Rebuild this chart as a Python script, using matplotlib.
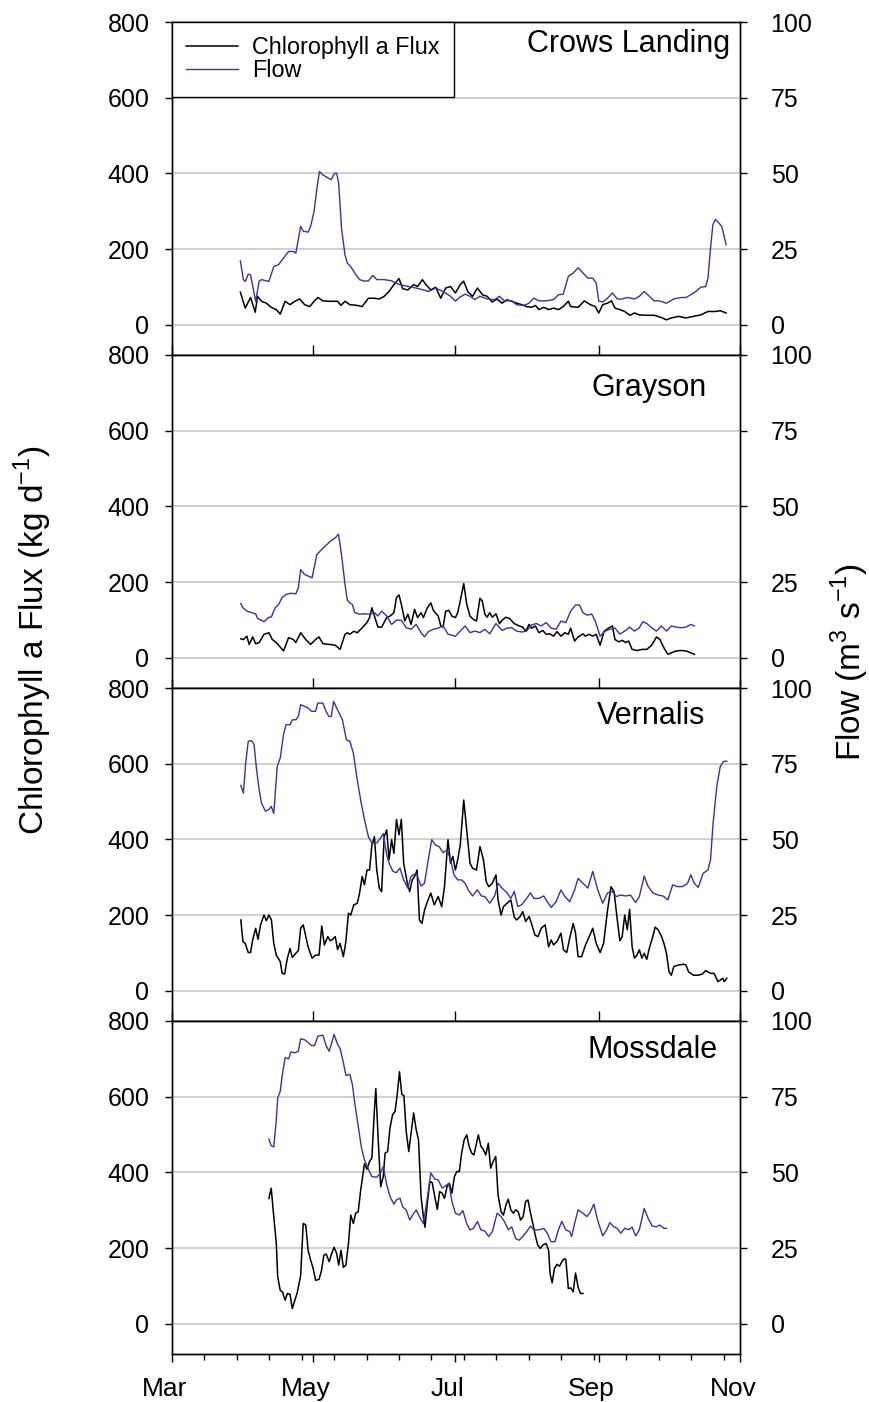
import matplotlib
matplotlib.use('Agg')
import matplotlib.pyplot as plt
from matplotlib.ticker import MultipleLocator
from matplotlib.transforms import ScaledTranslation

plt.rcParams['font.family'] = ['Liberation Sans', 'DejaVu Sans']
plt.rcParams['mathtext.fontset'] = 'custom'
plt.rcParams['mathtext.rm'] = 'Liberation Sans'

# x values are days after 1 March
month_days = [0, 61, 122, 184, 245]
month_labels = ['Mar', 'May', 'Jul', 'Sep', 'Nov']

# ---- Crows Landing ----
crows_chl_day = [
    29.6, 31.7, 34.0, 36.0, 37.0, 38.7, 40.8, 42.9, 45.1, 46.8,
    48.9, 51.0, 53.1, 55.2, 57.3, 59.5, 61.4, 63.0, 65.2, 68.3,
    71.5, 73.0, 74.7, 76.8, 80.0, 82.1, 84.8, 87.4, 89.5, 91.6,
    93.7, 95.8, 98.0, 99.6, 101.8, 104.3, 106.0, 108.1, 109.6, 111.7,
    113.8, 116.0, 118.1, 120.2, 122.3, 124.4, 125.9, 127.6, 129.7, 131.8,
    134.0, 136.0, 138.2, 140.3, 142.4, 144.5, 146.6, 148.7, 150.9, 153.0,
    155.1, 156.8, 158.3, 160.4, 162.5, 164.6, 166.7, 168.8, 171.0, 172.0,
    175.2, 177.9, 180.5, 182.6, 184.1, 185.8, 187.9, 189.6, 191.1, 193.2,
    195.3, 197.5, 199.5, 201.6, 204.8, 208.0, 211.1, 213.3, 215.4, 218.6,
    221.7, 224.9, 228.1, 231.2, 234.4, 236.5, 239.0]
crows_chl = [
    86, 44, 72, 33, 75, 62, 57, 46, 40, 28,
    62, 53, 62, 68, 53, 48, 62, 72, 63, 62,
    62, 51, 62, 53, 51, 48, 70, 70, 68, 75,
    88, 106, 122, 95, 92, 106, 101, 119, 106, 92,
    99, 70, 97, 101, 84, 106, 115, 88, 75, 97,
    79, 75, 60, 68, 57, 66, 62, 57, 53, 48,
    46, 51, 40, 46, 40, 44, 40, 48, 62, 48,
    46, 63, 53, 48, 31, 53, 57, 63, 44, 40,
    35, 25, 31, 26, 25, 25, 19, 13, 18, 22,
    18, 22, 26, 35, 35, 37, 31]
crows_flow_day = [
    29.6, 30.9, 31.7, 33.0, 34.0, 35.1, 36.2, 37.7, 38.7, 40.8,
    41.9, 44.0, 46.1, 48.2, 50.4, 52.5, 53.5, 55.6, 56.7, 58.8,
    59.9, 61.4, 62.6, 63.7, 65.2, 67.3, 68.8, 70.0, 71.1, 72.0,
    73.2, 74.7, 75.7, 77.2, 78.9, 81.0, 83.1, 84.8, 86.7, 88.4,
    91.6, 94.8, 98.0, 102.2, 105.4, 108.5, 110.7, 113.8, 117.0, 120.2,
    122.3, 124.0, 126.5, 128.6, 130.7, 132.9, 136.0, 139.2, 141.3, 143.4,
    146.6, 148.7, 151.9, 154.0, 156.1, 158.3, 161.4, 164.6, 166.7, 168.8,
    171.0, 173.1, 175.2, 177.3, 179.4, 181.5, 183.0, 184.1, 185.8, 187.9,
    190.0, 192.1, 194.2, 196.4, 199.5, 201.6, 203.7, 205.9, 208.0, 210.1,
    213.3, 216.4, 219.6, 221.7, 223.8, 226.0, 228.1, 230.2, 231.2, 232.3,
    233.3, 234.4, 235.9, 237.1, 238.0, 239.0]
crows_flow = [
    21.1, 14.9, 14.3, 16.7, 16.5, 12.1, 7.7, 14.4, 14.9, 14.5,
    14.3, 19.2, 19.9, 22.0, 24.2, 24.2, 23.6, 32.5, 30.9, 30.6,
    32.5, 37.5, 45.1, 50.6, 49.5, 48.5, 47.9, 49.8, 50.1, 46.8,
    31.9, 23.1, 20.4, 19.2, 17.1, 14.9, 14.4, 14.5, 16.3, 14.9,
    14.9, 14.5, 13.3, 12.6, 12.1, 11.5, 11.0, 12.1, 11.0, 9.4,
    7.8, 9.0, 10.1, 9.4, 8.3, 9.4, 8.5, 8.3, 9.4, 7.9,
    7.9, 6.6, 6.4, 7.1, 8.8, 7.9, 7.9, 8.3, 9.9, 10.1,
    16.0, 17.1, 18.8, 17.1, 15.4, 15.4, 13.8, 7.8, 7.5, 8.8,
    10.5, 8.5, 8.5, 9.0, 8.5, 9.4, 11.0, 9.4, 7.9, 7.9,
    7.1, 8.5, 9.0, 9.0, 9.9, 11.0, 12.4, 12.6, 15.4, 25.4,
    33.0, 34.8, 33.6, 32.5, 29.8, 26.4]

# ---- Grayson ----
grayson_chl_day = [
    29.8, 30.9, 32.4, 33.4, 34.9, 36.2, 37.7, 39.8, 41.9, 43.4,
    45.1, 46.8, 48.2, 50.4, 52.5, 53.5, 55.6, 57.8, 59.9, 62.0,
    63.5, 65.2, 68.3, 70.5, 72.6, 74.7, 75.7, 76.8, 78.5, 80.0,
    82.1, 84.2, 85.3, 86.3, 87.4, 88.9, 90.5, 92.7, 94.1, 95.8,
    96.9, 98.0, 99.0, 100.5, 101.8, 103.2, 104.7, 106.0, 107.5, 108.5,
    110.2, 111.7, 112.8, 114.9, 116.0, 117.0, 118.1, 119.5, 120.8, 122.3,
    123.3, 124.4, 125.9, 127.2, 128.6, 130.1, 131.4, 132.9, 133.9, 135.0,
    136.0, 137.1, 138.2, 139.8, 141.3, 142.4, 144.1, 145.6, 147.7, 149.8,
    151.3, 152.6, 154.1, 155.1, 156.8, 158.3, 160.0, 161.4, 163.1, 164.6,
    166.1, 167.8, 169.5, 171.0, 172.0, 173.7, 175.2, 177.3, 178.4, 180.0,
    181.5, 183.0, 184.7, 186.4, 188.5, 190.0, 191.1, 192.8, 194.2, 195.7,
    197.0, 198.5, 200.6, 202.7, 204.8, 206.9, 208.0, 209.0, 210.5, 212.2,
    213.9, 215.4, 217.5, 219.6, 221.7, 223.8, 225.3]
grayson_chl = [
    50, 48, 57, 35, 55, 37, 40, 62, 66, 48,
    40, 28, 18, 53, 48, 40, 66, 48, 35, 48,
    55, 37, 35, 33, 22, 62, 66, 62, 70, 66,
    79, 93, 106, 132, 110, 81, 81, 106, 110, 119,
    159, 166, 141, 97, 115, 88, 128, 106, 119, 106,
    132, 145, 125, 110, 84, 81, 123, 125, 110, 106,
    119, 150, 196, 141, 110, 101, 97, 157, 150, 115,
    107, 119, 107, 116, 90, 99, 107, 104, 90, 84,
    81, 70, 88, 78, 84, 66, 72, 62, 63, 57,
    69, 57, 66, 62, 78, 44, 55, 63, 57, 62,
    57, 62, 33, 70, 79, 84, 48, 42, 46, 40,
    44, 22, 19, 22, 22, 33, 44, 55, 48, 26,
    9, 13, 18, 19, 18, 13, 9]
grayson_flow_day = [
    29.8, 30.7, 32.4, 34.5, 36.2, 37.0, 39.8, 41.9, 42.9, 44.6,
    46.1, 47.6, 49.3, 51.4, 53.5, 54.6, 55.6, 57.3, 58.8, 60.5,
    62.6, 64.1, 66.2, 68.3, 70.5, 71.9, 73.2, 74.7, 75.7, 76.8,
    77.9, 78.9, 81.0, 83.1, 85.3, 87.4, 88.9, 90.5, 92.7, 94.8,
    96.9, 99.0, 101.1, 103.2, 105.4, 107.5, 109.0, 110.6, 112.8, 114.9,
    117.0, 119.1, 122.3, 124.4, 126.5, 128.6, 130.7, 132.9, 135.0, 137.1,
    139.8, 142.4, 144.5, 146.6, 148.7, 150.9, 153.0, 155.1, 157.2, 159.3,
    161.4, 163.6, 165.7, 167.8, 169.9, 172.0, 174.1, 175.8, 177.3, 179.0,
    181.1, 182.6, 184.7, 186.8, 188.9, 191.1, 193.2, 195.3, 197.4, 199.5,
    201.6, 203.1, 204.8, 206.9, 209.0, 211.1, 213.3, 215.4, 217.5, 219.6,
    221.7, 223.8, 225.3]
grayson_flow = [
    17.9, 16.5, 15.4, 14.9, 14.5, 13.0, 11.9, 13.4, 13.4, 16.5,
    17.6, 19.9, 20.9, 21.3, 21.1, 23.1, 29.1, 27.5, 27.0, 26.4,
    34.1, 35.3, 36.9, 38.4, 39.6, 40.8, 34.1, 24.3, 19.0, 18.1,
    17.6, 14.9, 14.4, 14.5, 14.4, 14.9, 13.8, 15.4, 13.8, 11.0,
    12.4, 12.4, 9.9, 9.4, 11.0, 8.3, 6.9, 8.6, 9.4, 9.8,
    10.5, 7.8, 7.1, 8.8, 10.5, 8.3, 8.8, 8.3, 9.4, 7.9,
    11.3, 9.0, 9.8, 9.9, 8.8, 8.5, 8.8, 10.8, 11.3, 10.5,
    11.6, 9.8, 9.4, 12.1, 11.6, 15.4, 17.4, 17.4, 14.9, 14.1,
    14.4, 12.1, 7.1, 8.8, 9.4, 9.8, 7.8, 8.8, 10.1, 8.8,
    9.9, 11.9, 11.3, 9.9, 8.8, 10.5, 8.8, 10.5, 10.1, 9.9,
    10.1, 11.0, 10.5]

# ---- Vernalis ----
vernalis_chl_day = [
    29.8, 30.7, 31.7, 33.0, 34.0, 34.9, 36.2, 37.2, 38.3, 39.8,
    40.8, 41.9, 43.0, 44.0, 45.1, 46.8, 47.6, 48.7, 49.7, 51.0,
    52.0, 53.5, 54.6, 55.6, 56.7, 57.8, 58.8, 60.5, 62.0, 63.5,
    64.7, 65.8, 67.3, 68.3, 69.4, 70.5, 71.5, 72.6, 74.0, 75.1,
    76.2, 77.2, 78.5, 80.0, 81.0, 82.1, 83.1, 84.2, 85.3, 86.3,
    87.4, 88.4, 89.5, 90.5, 91.6, 92.7, 93.7, 94.8, 95.8, 96.9,
    98.0, 99.0, 100.0, 101.6, 102.6, 103.7, 104.7, 105.8, 106.8, 107.9,
    109.0, 110.2, 111.7, 113.2, 114.9, 116.4, 117.6, 119.1, 120.2, 121.2,
    122.3, 123.3, 124.4, 125.9, 127.2, 128.6, 129.7, 131.4, 132.9, 134.4,
    135.6, 136.7, 138.2, 139.8, 140.7, 142.0, 143.0, 144.5, 146.2, 147.7,
    148.7, 150.2, 151.3, 152.6, 154.1, 155.1, 156.6, 157.9, 159.3, 161.0,
    162.5, 163.6, 164.6, 166.1, 167.8, 168.9, 170.3, 171.6, 173.1, 174.1,
    175.2, 176.7, 178.4, 180.0, 181.5, 183.0, 184.7, 186.2, 187.9, 189.4,
    190.7, 192.1, 193.2, 194.2, 195.3, 196.4, 197.4, 198.5, 199.5, 200.6,
    201.6, 202.7, 203.7, 204.8, 205.9, 207.4, 208.4, 209.7, 211.2, 212.2,
    213.3, 214.4, 215.4, 216.5, 218.6, 220.7, 221.7, 222.8, 224.9, 227.0,
    228.7, 230.2, 232.3, 233.8, 235.5, 236.5, 237.6, 238.2, 239.3]
vernalis_chl = [
    187, 130, 125, 101, 101, 134, 165, 136, 174, 200,
    185, 200, 187, 125, 94, 77, 46, 44, 81, 112,
    88, 99, 106, 165, 174, 143, 116, 86, 94, 94,
    171, 121, 143, 132, 136, 143, 109, 125, 90, 130,
    205, 200, 227, 231, 258, 302, 280, 319, 319, 385,
    407, 319, 271, 262, 407, 425, 346, 399, 363, 452,
    412, 453, 337, 284, 262, 293, 302, 319, 187, 178,
    213, 235, 258, 227, 249, 222, 275, 399, 337, 355,
    319, 346, 385, 504, 425, 337, 324, 319, 381, 346,
    288, 275, 284, 306, 240, 200, 222, 231, 240, 194,
    187, 196, 209, 183, 196, 178, 147, 143, 165, 174,
    116, 134, 121, 130, 152, 108, 101, 139, 178, 152,
    90, 90, 121, 143, 165, 125, 101, 125, 213, 275,
    262, 187, 132, 143, 200, 161, 215, 116, 86, 94,
    108, 86, 99, 83, 112, 143, 168, 161, 143, 125,
    99, 50, 41, 64, 68, 70, 68, 50, 41, 41,
    44, 53, 46, 46, 24, 28, 33, 24, 33]
vernalis_flow_day = [
    29.8, 30.9, 31.9, 33.0, 34.5, 35.5, 36.6, 37.7, 38.7, 40.4,
    41.9, 42.9, 44.0, 45.5, 46.8, 48.2, 49.3, 51.0, 52.0, 53.5,
    54.6, 55.6, 57.3, 58.8, 60.3, 62.0, 63.0, 65.2, 66.2, 67.7,
    68.8, 69.8, 71.1, 72.6, 73.6, 75.3, 76.8, 78.3, 80.0, 81.7,
    83.1, 84.8, 86.3, 88.4, 90.0, 91.2, 92.7, 93.7, 95.4, 96.9,
    98.4, 100.0, 101.8, 103.2, 105.4, 107.5, 109.0, 110.6, 112.1, 113.8,
    115.3, 117.0, 118.7, 120.2, 121.7, 123.3, 125.0, 126.5, 128.0, 129.7,
    131.8, 133.5, 135.0, 137.1, 139.2, 140.7, 142.4, 144.5, 146.2, 147.7,
    149.2, 150.9, 152.5, 154.7, 156.1, 158.3, 160.4, 161.9, 163.6, 165.7,
    167.8, 169.5, 171.6, 173.7, 175.2, 177.3, 179.4, 181.5, 183.7, 185.8,
    187.9, 190.0, 191.6, 193.6, 195.7, 197.8, 200.0, 201.6, 203.7, 205.4,
    207.5, 209.7, 211.8, 213.9, 216.0, 218.1, 220.2, 222.4, 223.8, 225.3,
    227.0, 229.1, 231.2, 232.3, 233.4, 235.0, 236.5, 238.0, 239.3]
vernalis_flow = [
    67.8, 65.3, 75.3, 82.4, 82.6, 81.3, 73.0, 66.4, 62.0, 59.3,
    59.8, 60.9, 58.6, 74.1, 76.9, 84.6, 87.9, 87.9, 89.5, 89.5,
    90.6, 94.5, 93.9, 93.4, 92.3, 92.3, 95.0, 95.0, 92.9, 90.6,
    90.6, 95.6, 93.4, 91.1, 89.5, 82.9, 82.4, 78.5, 69.6, 62.0,
    56.5, 50.9, 48.8, 48.8, 50.4, 51.9, 44.9, 42.1, 39.4, 39.0,
    40.5, 36.6, 33.9, 37.8, 38.8, 34.6, 35.5, 43.3, 49.9, 48.1,
    47.6, 45.6, 46.5, 43.3, 38.3, 36.6, 36.6, 35.5, 33.1, 31.3,
    33.3, 31.3, 31.1, 28.9, 31.3, 35.5, 33.9, 32.4, 30.5, 32.8,
    27.8, 28.4, 30.0, 32.3, 30.5, 30.5, 31.3, 29.4, 27.5, 29.4,
    33.3, 31.1, 29.4, 33.3, 37.1, 35.5, 33.9, 39.4, 33.3, 28.9,
    32.3, 32.8, 31.1, 31.6, 31.3, 31.6, 29.1, 31.1, 37.9, 34.4,
    32.3, 31.6, 31.3, 30.0, 35.0, 34.4, 34.4, 35.5, 38.3, 35.5,
    34.1, 38.8, 39.9, 43.3, 55.4, 67.5, 74.1, 75.8, 75.8]

# ---- Mossdale ----
mossdale_chl_day = [
    41.9, 42.9, 44.0, 45.1, 45.7, 46.8, 47.8, 48.9, 49.9, 51.0,
    52.0, 53.1, 54.2, 55.6, 56.7, 57.8, 58.8, 59.9, 61.0, 62.0,
    63.5, 64.6, 65.6, 66.6, 67.9, 69.0, 70.0, 71.1, 72.0, 73.0,
    74.0, 75.1, 76.2, 77.2, 78.3, 79.3, 80.4, 81.5, 82.5, 83.1,
    84.2, 85.3, 86.3, 87.4, 88.0, 89.1, 90.1, 91.2, 92.0, 93.1,
    94.1, 95.2, 96.3, 97.3, 98.2, 99.2, 100.1, 101.1, 102.2, 103.2,
    104.3, 105.4, 106.4, 107.5, 108.5, 109.2, 110.2, 111.3, 112.3, 113.4,
    114.5, 115.5, 116.6, 117.6, 118.7, 119.7, 120.8, 121.9, 122.9, 124.0,
    125.0, 126.1, 127.2, 128.2, 129.3, 130.3, 131.4, 132.2, 133.3, 134.3,
    135.4, 136.5, 137.5, 138.6, 139.7, 140.7, 142.0, 143.0, 144.1, 145.1,
    146.2, 147.3, 148.3, 149.4, 150.4, 151.5, 152.6, 153.6, 154.7, 155.7,
    156.8, 157.8, 158.9, 160.0, 161.4, 162.5, 163.1, 164.0, 165.0, 166.1,
    167.2, 168.2, 169.3, 169.9, 171.0, 172.0, 173.1, 174.1, 175.2, 176.2,
    177.3]
mossdale_chl = [
    331, 358, 283, 212, 124, 88, 84, 62, 80, 78,
    40, 62, 84, 128, 265, 261, 194, 168, 146, 115,
    117, 141, 181, 184, 164, 186, 202, 186, 155, 194,
    149, 155, 212, 287, 265, 292, 296, 354, 398, 423,
    408, 429, 438, 566, 621, 477, 362, 389, 451, 455,
    517, 552, 561, 610, 666, 606, 603, 508, 455, 504,
    557, 513, 486, 336, 283, 255, 318, 376, 373, 336,
    302, 349, 345, 331, 362, 371, 345, 389, 402, 402,
    451, 486, 499, 469, 451, 446, 477, 499, 469, 461,
    446, 477, 411, 429, 442, 340, 296, 287, 314, 329,
    301, 292, 301, 296, 274, 283, 323, 327, 292, 265,
    232, 208, 199, 208, 212, 194, 133, 108, 146, 157,
    152, 164, 172, 170, 93, 95, 84, 134, 97, 80,
    80]
mossdale_flow_day = [
    41.9, 42.9, 44.0, 45.1, 45.7, 46.8, 47.6, 48.9, 50.4, 51.4,
    53.1, 54.6, 55.6, 57.3, 58.8, 60.3, 61.6, 63.0, 65.2, 66.6,
    67.9, 69.0, 70.0, 71.5, 72.6, 74.0, 75.1, 76.8, 77.9, 78.9,
    80.0, 81.7, 83.1, 84.8, 86.3, 88.4, 90.0, 91.2, 92.7, 94.1,
    95.8, 96.9, 98.4, 99.6, 101.1, 102.6, 103.9, 105.4, 106.8, 108.5,
    110.2, 111.7, 113.4, 114.9, 116.6, 118.0, 119.5, 120.8, 122.3, 124.0,
    125.5, 127.2, 128.6, 130.1, 131.8, 133.3, 135.0, 136.7, 138.2, 140.3,
    142.0, 143.4, 145.1, 146.6, 148.3, 149.8, 151.3, 153.0, 154.7, 156.1,
    158.3, 160.4, 161.9, 163.5, 165.2, 166.7, 168.2, 169.9, 171.6, 172.4,
    173.7, 175.2, 177.3, 179.0, 180.5, 182.0, 183.6, 185.8, 187.5, 188.9,
    190.6, 192.1, 193.6, 195.3, 197.0, 198.5, 200.0, 201.6, 203.7, 205.4,
    207.1, 208.8, 210.5, 212.2, 213.3]
mossdale_flow = [
    61.0, 58.8, 58.4, 67.4, 74.6, 76.8, 81.8, 87.9, 87.5, 89.8,
    89.5, 90.0, 94.1, 93.8, 92.9, 91.9, 91.9, 95.0, 95.3, 91.8,
    90.0, 92.9, 95.6, 92.3, 90.9, 86.3, 82.0, 82.4, 79.0, 72.9,
    67.4, 58.6, 54.1, 51.0, 48.6, 48.4, 49.8, 51.9, 45.9, 42.0,
    39.5, 40.9, 41.5, 38.6, 37.6, 34.3, 35.9, 37.6, 35.4, 33.1,
    41.5, 49.8, 47.8, 47.5, 44.8, 45.5, 46.4, 40.4, 36.5, 35.9,
    37.4, 33.1, 31.0, 31.5, 33.8, 31.0, 30.6, 28.8, 30.4, 36.5,
    35.4, 33.8, 31.0, 32.0, 28.1, 27.6, 28.8, 30.4, 32.3, 31.0,
    31.0, 31.5, 29.9, 27.1, 27.1, 31.0, 33.8, 31.0, 30.4, 28.8,
    33.1, 37.6, 36.5, 35.4, 37.0, 39.5, 34.3, 29.0, 31.0, 33.4,
    32.0, 31.5, 29.9, 31.5, 31.1, 31.9, 29.0, 31.0, 38.1, 34.8,
    32.3, 32.0, 32.6, 31.5, 31.5]

stations = ['Crows Landing', 'Grayson', 'Vernalis', 'Mossdale']
chl_days = [crows_chl_day, grayson_chl_day, vernalis_chl_day, mossdale_chl_day]
chl_vals = [crows_chl, grayson_chl, vernalis_chl, mossdale_chl]
flow_days = [crows_flow_day, grayson_flow_day, vernalis_flow_day, mossdale_flow_day]
flow_vals = [crows_flow, grayson_flow, vernalis_flow, mossdale_flow]

# ---- layout ----
W, H = 869, 1402
left_px, right_px = 171.7, 740
tops = [22, 355, 688, 1021]
panel_h = 333
name_pos = [(0.982, 0.934), (0.942, 0.900), (0.938, 0.916), (0.961, 0.913)]
blue = '#3434a4'
grid_col = '#c8c8c8'

fig = plt.figure(figsize=(W / 100, H / 100), dpi=100)

for i in range(4):
    ax = fig.add_axes([left_px / W, 1 - (tops[i] + panel_h) / H,
                       (right_px - left_px) / W, panel_h / H])
    l1, = ax.plot(chl_days[i], chl_vals[i], color='black', lw=1.1)
    ax.set_xlim(0, 245)
    ax.set_ylim(-80, 800)
    ax.set_yticks([0, 200, 400, 600, 800])
    ax.yaxis.grid(True, color=grid_col, lw=1.2)
    ax.set_axisbelow(True)
    ax.tick_params(axis='y', direction='out', length=5, width=1, labelsize=18, pad=11)
    ax.set_xticks(month_days)
    ax.set_xticklabels([])

    ax2 = ax.twinx()
    l2, = ax2.plot(flow_days[i], flow_vals[i], color=blue, lw=1.0)
    ax2.set_ylim(-10, 100)
    ax2.set_yticks([0, 25, 50, 75, 100])
    ax2.tick_params(axis='y', direction='out', length=5, width=1, labelsize=18, pad=17)

    for a in (ax, ax2):
        for s in a.spines.values():
            s.set_linewidth(1.0)

    if i < 3:
        ax.tick_params(axis='x', direction='in', length=7, width=1)
    else:
        ax.xaxis.set_minor_locator(MultipleLocator(14))
        ax.tick_params(axis='x', which='major', direction='out', length=6, width=1)
        ax.tick_params(axis='x', which='minor', direction='out', length=4, width=1)
        off = ScaledTranslation(-0.07, -0.42, fig.dpi_scale_trans)
        trans = ax.get_xaxis_transform() + off
        for d, m in zip(month_days, month_labels):
            ax.text(d, 0, m, transform=trans, ha='center', va='baseline', fontsize=19)

    ax2.text(name_pos[i][0], name_pos[i][1], stations[i], transform=ax2.transAxes,
             ha='right', va='center', fontsize=22)

    if i == 0:
        leg = ax2.legend([l1, l2], ['Chlorophyll a Flux', 'Flow'], loc='upper left',
                         bbox_to_anchor=(0, 1), borderaxespad=0, fontsize=16.8,
                         fancybox=False, edgecolor='black', framealpha=1,
                         handlelength=2.23, handletextpad=0.59, borderpad=0.62,
                         labelspacing=0.0)
        leg.get_frame().set_linewidth(1.0)

fig.text(33 / W, 1 - 640 / H, 'Chlorophyll a Flux (kg d$^{-1}$)', rotation=90,
         ha='center', va='center', fontsize=24)
fig.text(850 / W, 1 - 662 / H, 'Flow (m$^{3}$ s$^{-1}$)', rotation=90,
         ha='center', va='center', fontsize=24)

fig.savefig('out.png', dpi=100)
